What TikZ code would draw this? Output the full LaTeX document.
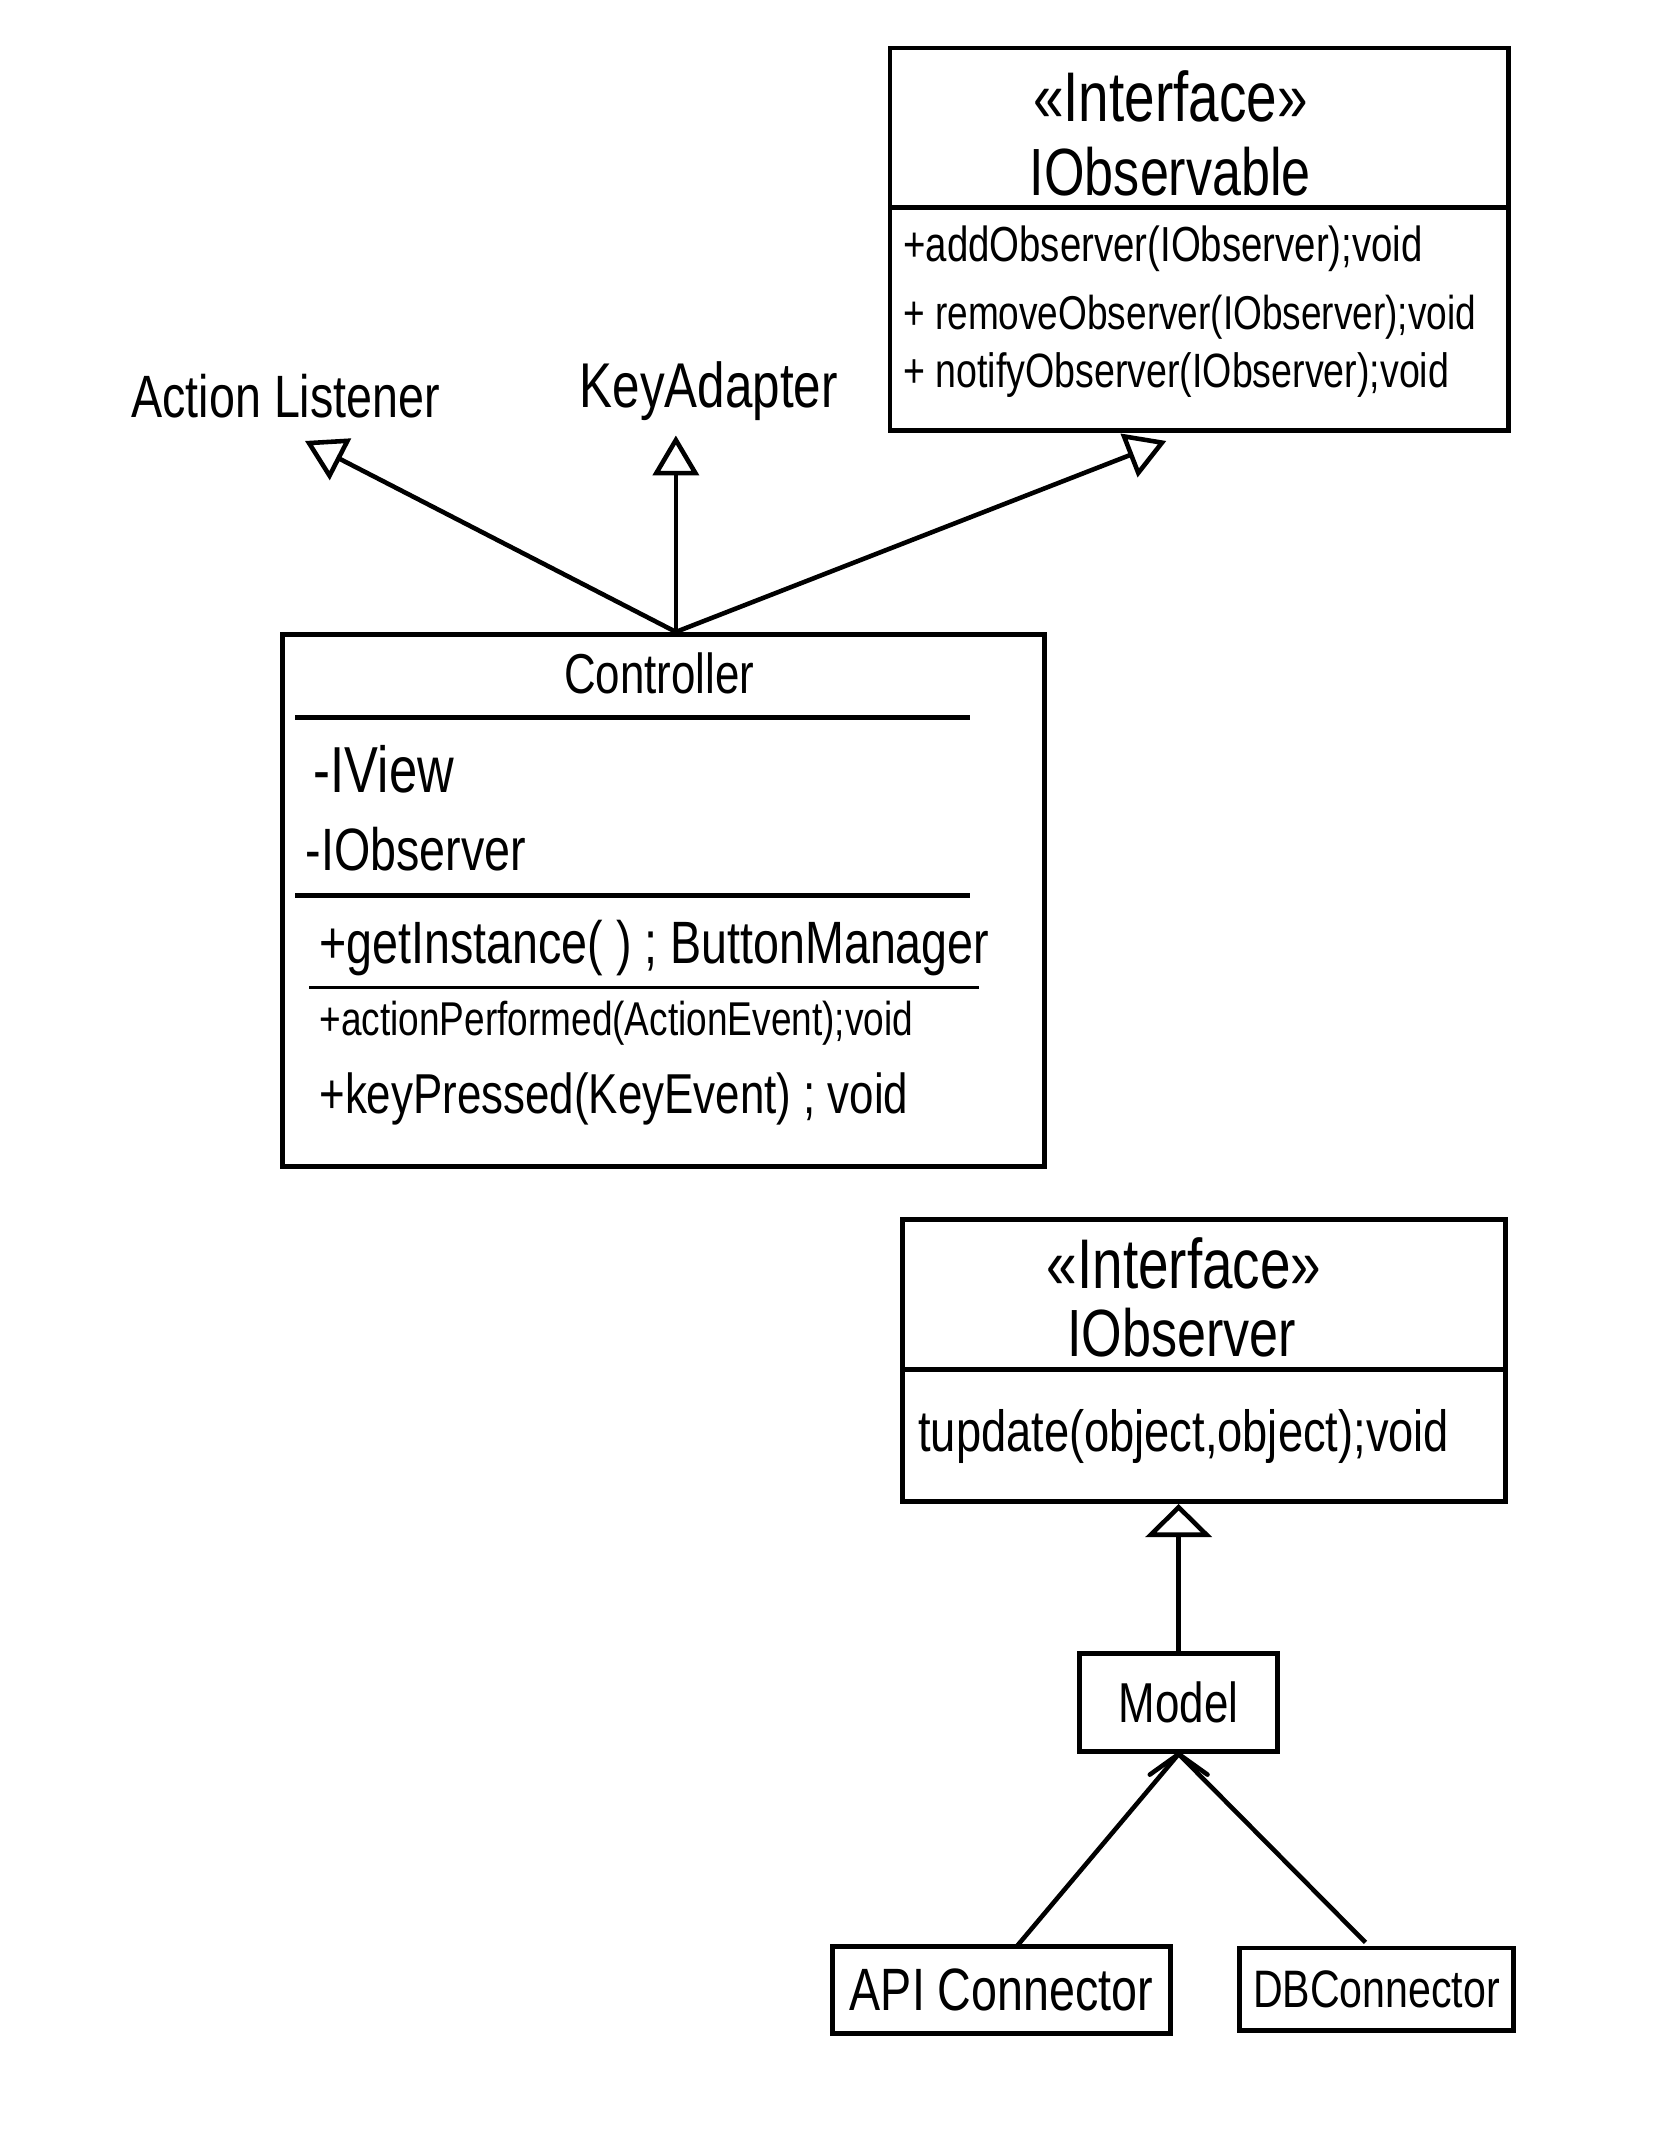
\documentclass[tikz,border=0pt]{standalone}
\usepackage{fontspec}
\setmainfont{Liberation Sans}[FakeStretch=0.78]
\usetikzlibrary{arrows.meta,calc}
\newcommand{\fsz}[1]{\fontsize{#1}{#1}\selectfont}

\begin{document}
\begin{tikzpicture}[x=0.01374cm,y=-0.01374cm,
  box/.style={draw, line width=1.4pt, rectangle, inner sep=0pt},
  lbl/.style={inner sep=0pt, anchor=center},
  member/.style={inner sep=0pt, anchor=west},
  rule/.style={line width=1.4pt},
  thinrule/.style={line width=0.8pt},
  generalize/.style={line width=1.3pt,
    -{Triangle[open,length=0.40cm,width=0.46cm,line width=1.3pt]}},
  generalizewide/.style={line width=1.3pt,
    -{Triangle[open,length=0.33cm,width=0.66cm,line width=1.3pt]}},
  assoc/.style={line width=1.3pt},
  barb/.style={line width=1.3pt, line cap=round}
]
\useasboundingbox (0,0) rectangle (1214,1568);

% ---------- IObservable interface ----------
\node[box, minimum width=6.183cm, minimum height=3.820cm] (iobs) at (873,174) {};
\node[lbl, font=\fsz{20}] (iobsStereo) at (852,70) {«Interface»};
\node[lbl, font=\fsz{19}] (iobsName) at (852,125) {IObservable};
\draw[rule] (648,151) -- (1098,151);
\node[member, font=\fsz{14}] (iobsM1) at (657,181) {+addObserver(IObserver);void};
\node[member, font=\fsz{13.5}] (iobsM2) at (657,231) {+ removeObserver(IObserver);void};
\node[member, font=\fsz{13.7}] (iobsM3) at (657,273) {+ notifyObserver(IObserver);void};

% ---------- external classes ----------
\node[lbl, font=\fsz{17}] (al) at (208,288) {Action Listener};
\node[lbl, font=\fsz{18}] (ka) at (516,285) {KeyAdapter};

% ---------- Controller ----------
\node[box, minimum width=7.612cm, minimum height=5.317cm] (ctrl) at (483,655.5) {};
\node[lbl, font=\fsz{16}] (ctrlName) at (480,490) {Controller};
\draw[rule] (215,522) -- (706,522);
\node[member, font=\fsz{18.5}] (ctrlA1) at (228,560) {-IView};
\node[member, font=\fsz{17}] (ctrlA2) at (222,618) {-IObserver};
\draw[rule] (215,652) -- (706,652);
\node[member, font=\fsz{17}] (ctrlM1) at (232,690) {+getInstance( ) ; ButtonManager};
\draw[thinrule] (225,719) -- (713,719);
\node[member, font=\fsz{13.5}] (ctrlM2) at (232,745) {+actionPerformed(ActionEvent);void};
\node[member, font=\fsz{16}] (ctrlM3) at (232,800) {+keyPressed(KeyEvent) ; void};

% ---------- generalisation arrows from Controller ----------
\coordinate (ctrlTop) at (492,460);
\coordinate (alTip) at (222,321);
\coordinate (kaTip) at (492,317);
\coordinate (iobsTip) at (849,321);
\draw[generalize] (ctrlTop) -- (alTip);
\draw[generalize] (ctrlTop) -- (kaTip);
\draw[generalize] (ctrlTop) -- (iobsTip);

% ---------- IObserver interface ----------
\node[box, minimum width=6.032cm, minimum height=2.817cm] (iobv) at (876.5,990.5) {};
\node[lbl, font=\fsz{20}] (iobvStereo) at (862,920) {«Interface»};
\node[lbl, font=\fsz{19}] (iobvName) at (860,970) {IObserver};
\draw[rule] (657,997) -- (1096,997);
\node[member, font=\fsz{16.5}] (iobvM1) at (668,1046) {tupdate(object,object);void};

% ---------- Model and connectors ----------
\node[box, minimum width=1.979cm, minimum height=0.976cm, font=\fsz{16}] (model) at (858,1239.5) {Model};
\draw[generalizewide] (model.north) -- (model.north |- iobv.south);

\node[box, minimum width=3.380cm, minimum height=0.866cm, font=\fsz{17}] (api) at (729,1448.5) {API Connector};
\node[box, minimum width=2.748cm, minimum height=0.824cm, font=\fsz{15}] (db) at (1002,1448) {DBConnector};

\coordinate (apiTop) at (740,1417);
\coordinate (dbTop) at (994,1414);
\draw[assoc] (apiTop) -- (model.south);
\draw[assoc] (dbTop) -- (model.south);
\draw[barb] ($(model.south)+(-21,15)$) -- (model.south) -- ++(21,15);
\end{tikzpicture}
\end{document}
